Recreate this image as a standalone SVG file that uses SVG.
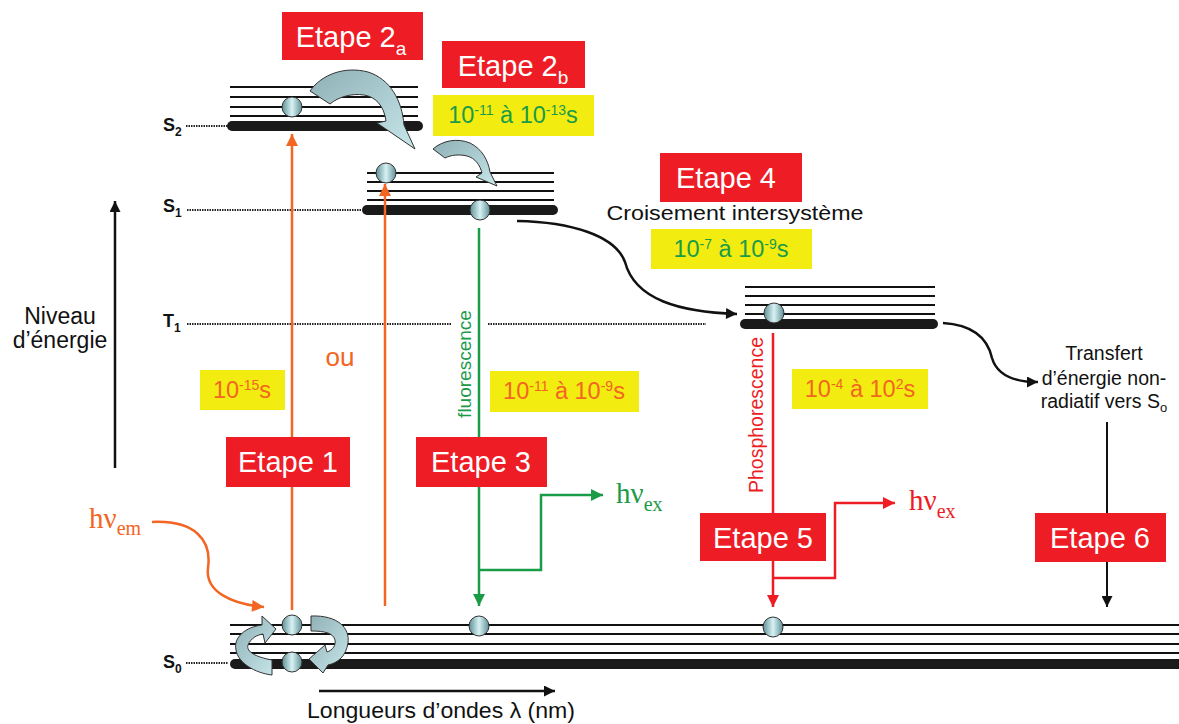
<svg xmlns="http://www.w3.org/2000/svg" width="1179" height="724" viewBox="0 0 1179 724">
<style>
.lvl{stroke:#111;stroke-width:2;fill:none}
.bar{stroke:#1a1a1a;stroke-width:10;stroke-linecap:round;fill:none}
.dot{stroke:#222;stroke-width:2;stroke-dasharray:1.5,1;fill:none}
.ball{fill:url(#ball);stroke:#333;stroke-width:1}
.fat{fill:url(#fatg);stroke:#333;stroke-width:1}
.red{fill:#ee1c24}
.yel{fill:#f2ec10}
.et{font-family:"Liberation Sans",Arial,sans-serif;font-size:29px;fill:#fff;text-anchor:middle}
.yt{font-family:"Liberation Sans",Arial,sans-serif;font-size:23.5px;text-anchor:middle}
.sup{font-size:14px}
.g{fill:#1a9b48}
.o{fill:#f26522}
.r{fill:#ee1c24}
.lab{font-family:"Liberation Sans",Arial,sans-serif;font-size:18px;font-weight:bold;fill:#111}
.txt{font-family:"Liberation Sans",Arial,sans-serif;fill:#111}
.hv{font-family:"Liberation Serif","Times New Roman",serif;font-size:29px}
</style>
<defs>
<linearGradient id="ball" x1="0" y1="0" x2="1" y2="0">
<stop offset="0" stop-color="#5f9096"/><stop offset="0.5" stop-color="#d8f2f4"/><stop offset="1" stop-color="#5f9096"/>
</linearGradient>
<linearGradient id="fatg" x1="0" y1="0" x2="1" y2="1">
<stop offset="0" stop-color="#8fb0b5"/><stop offset="1" stop-color="#c6e6ea"/>
</linearGradient>
<marker id="aO" viewBox="0 0 10 10" refX="10" refY="5" markerUnits="userSpaceOnUse" markerWidth="13" markerHeight="12" orient="auto"><path d="M0,0 L10,5 L0,10 z" fill="#f26522"/></marker>
<marker id="aG" viewBox="0 0 10 10" refX="10" refY="5" markerUnits="userSpaceOnUse" markerWidth="13" markerHeight="12" orient="auto"><path d="M0,0 L10,5 L0,10 z" fill="#1a9b48"/></marker>
<marker id="aR" viewBox="0 0 10 10" refX="10" refY="5" markerUnits="userSpaceOnUse" markerWidth="13" markerHeight="12" orient="auto"><path d="M0,0 L10,5 L0,10 z" fill="#ee1c24"/></marker>
<marker id="aK" viewBox="0 0 10 10" refX="10" refY="5" markerUnits="userSpaceOnUse" markerWidth="13" markerHeight="11" orient="auto"><path d="M0,0 L10,5 L0,10 z" fill="#111"/></marker>
</defs>
<rect width="1179" height="724" fill="#fff"/>

<!-- Energy axis -->
<g id="axis-energy">
<line x1="115" y1="468" x2="115" y2="201" stroke="#111" stroke-width="2.5" marker-end="url(#aK)"/>
<text class="txt" x="60" y="324" font-size="23" text-anchor="middle">Niveau</text>
<text class="txt" x="60" y="348" font-size="23" text-anchor="middle">d’énergie</text>
</g>

<!-- Wavelength axis -->
<g id="axis-wavelength">
<line x1="319" y1="691" x2="555" y2="691" stroke="#111" stroke-width="2.5" marker-end="url(#aK)"/>
<text class="txt" x="441" y="718" font-size="22" text-anchor="middle" textLength="268" lengthAdjust="spacingAndGlyphs">Longueurs d’ondes λ (nm)</text>
</g>

<!-- S2 -->
<g id="level-S2">
<text class="lab" x="163" y="131">S<tspan font-size="12" dy="5">2</tspan></text>
<line class="dot" x1="186" y1="126" x2="228" y2="126"/>
<line class="lvl" x1="230" y1="87" x2="418" y2="87"/>
<line class="lvl" x1="230" y1="97" x2="418" y2="97"/>
<line class="lvl" x1="230" y1="107" x2="418" y2="107"/>
<line class="lvl" x1="230" y1="116" x2="418" y2="116"/>
<line class="bar" x1="232" y1="126" x2="418" y2="126"/>
<circle class="ball" cx="292" cy="107" r="10"/>
</g>

<!-- S1 -->
<g id="level-S1">
<text class="lab" x="163" y="212">S<tspan font-size="12" dy="5">1</tspan></text>
<line class="dot" x1="187" y1="210" x2="362" y2="210"/>
<line class="lvl" x1="367" y1="173" x2="554" y2="173"/>
<line class="lvl" x1="367" y1="182" x2="554" y2="182"/>
<line class="lvl" x1="367" y1="191" x2="554" y2="191"/>
<line class="lvl" x1="367" y1="200" x2="554" y2="200"/>
<line class="bar" x1="367" y1="210" x2="553" y2="210"/>
<circle class="ball" cx="386" cy="173" r="10"/>
<circle class="ball" cx="480" cy="210" r="10"/>
</g>

<!-- T1 -->
<g id="level-T1">
<text class="lab" x="163" y="327">T<tspan font-size="12" dy="5">1</tspan></text>
<line class="dot" x1="187" y1="324" x2="452" y2="324"/>
<line class="dot" x1="488" y1="324" x2="706" y2="324"/>
<line class="lvl" x1="745" y1="287" x2="935" y2="287"/>
<line class="lvl" x1="745" y1="296" x2="935" y2="296"/>
<line class="lvl" x1="745" y1="305" x2="935" y2="305"/>
<line class="lvl" x1="745" y1="314" x2="935" y2="314"/>
<line class="bar" x1="745" y1="324" x2="933" y2="324"/>
<circle class="ball" cx="774" cy="313" r="10"/>
</g>

<!-- S0 -->
<g id="level-S0">
<text class="lab" x="163" y="668">S<tspan font-size="12" dy="5">0</tspan></text>
<line class="dot" x1="186" y1="663" x2="228" y2="663"/>
<line class="lvl" x1="230" y1="625" x2="1179" y2="625"/>
<line class="lvl" x1="230" y1="634" x2="1179" y2="634"/>
<line class="lvl" x1="230" y1="644" x2="1179" y2="644"/>
<line class="lvl" x1="230" y1="653" x2="1179" y2="653"/>
<line class="bar" x1="235" y1="664" x2="1190" y2="664"/>
<path class="fat" d="M272,660 C256,657 246,652 248,645 C251,638 257,635 263,634 L265,643 L276,629 L262,616 L262,625 C246,627 233,637 236,650 C238,663 255,673 272,675 Z"/>
<path class="fat" d="M311,616 C338,615 350,628 348,643 C346,656 338,663 328,665 L323,673 L309,659 L325,645 L327,652 C333,650 336,645 335,640 C333,633 325,631 311,631 Z"/>
<circle class="ball" cx="292" cy="625" r="10"/>
<circle class="ball" cx="292" cy="662" r="10"/>
<circle class="ball" cx="479" cy="626" r="10"/>
<circle class="ball" cx="773" cy="627" r="10"/>
</g>

<!-- Connectors -->
<g id="connectors" fill="none">
<line x1="292" y1="610" x2="292" y2="134" stroke="#f26522" stroke-width="2.5" marker-end="url(#aO)"/>
<line x1="385" y1="606" x2="385" y2="184" stroke="#f26522" stroke-width="2.5" marker-end="url(#aO)"/>
<path d="M152,522 C195,520 212,540 208,568 C205,592 232,604 264,607" stroke="#f26522" stroke-width="2.5" marker-end="url(#aO)"/>
<line x1="479" y1="228" x2="479" y2="606" stroke="#1a9b48" stroke-width="2.5" marker-end="url(#aG)"/>
<polyline points="479,570 541,570 541,495 603,495" stroke="#1a9b48" stroke-width="2.5" marker-end="url(#aG)"/>
<line x1="773" y1="333" x2="773" y2="607" stroke="#ee1c24" stroke-width="2.5" marker-end="url(#aR)"/>
<polyline points="773,578 835,578 835,503 895,503" stroke="#ee1c24" stroke-width="2.5" marker-end="url(#aR)"/>
<path d="M517,221 C570,222 615,235 625,262 C635,300 680,312 737,314" stroke="#111" stroke-width="2.5" marker-end="url(#aK)"/>
<path d="M943,323 C975,325 988,340 992,358 C997,375 1015,382 1038,382" stroke="#111" stroke-width="2.5" marker-end="url(#aK)"/>
<line x1="1107" y1="422" x2="1107" y2="607" stroke="#111" stroke-width="2" marker-end="url(#aK)"/>
<path class="fat" d="M310,91 C322,74 345,66 368,72 C390,79 402,100 404,125 L415,149 L377,123 L386,121 C384,106 376,97 364,95 C352,93 338,97 330,104 Z"/>
<path class="fat" d="M433,149 C443,140 458,138 470,143 C482,149 488,160 490,172 L497,186 L476,177 L482,173 C480,165 475,158 467,156 C459,154 451,155 445,158 Z"/>
</g>

<!-- Labels on connectors -->
<g id="label-fluorescence">
<text class="txt" x="471" y="364" font-size="19" style="fill:#1a9b48" text-anchor="middle" transform="rotate(-90 471 364)">fluorescence</text>
</g>
<g id="label-phosphorescence">
<text class="txt" x="763" y="415" font-size="19.5" style="fill:#ee1c24" text-anchor="middle" transform="rotate(-90 763 415)">Phosphorescence</text>
</g>
<g id="label-ou">
<text class="txt" x="340" y="366" font-size="26" style="fill:#f26522" text-anchor="middle">ou</text>
</g>
<g id="label-hvem">
<text class="hv o" x="89" y="528">hν<tspan font-size="20" dy="7">em</tspan></text>
</g>
<g id="label-hvex-green">
<text class="hv g" x="616" y="503">hν<tspan font-size="20" dy="8">ex</tspan></text>
</g>
<g id="label-hvex-red">
<text class="hv r" x="909" y="510">hν<tspan font-size="20" dy="8">ex</tspan></text>
</g>
<g id="label-transfert">
<text class="txt" x="1104" y="360" font-size="19.5" text-anchor="middle">Transfert</text>
<text class="txt" x="1104" y="385" font-size="19.5" text-anchor="middle">d’énergie non-</text>
<text class="txt" x="1104" y="408" font-size="19.5" text-anchor="middle">radiatif vers S<tspan font-size="13" dy="4">o</tspan></text>
</g>
<g id="label-croisement">
<text class="txt" x="735" y="220" font-size="21" text-anchor="middle" textLength="257" lengthAdjust="spacingAndGlyphs">Croisement intersystème</text>
</g>

<!-- Etape boxes -->
<g id="etape1"><rect class="red" x="226" y="437" width="124" height="50"/><text class="et" x="288" y="472">Etape 1</text></g>
<g id="etape2a"><rect class="red" x="282" y="12" width="141" height="48"/><text class="et" x="351" y="47">Etape 2<tspan font-size="19" dy="8">a</tspan></text></g>
<g id="etape2b"><rect class="red" x="442" y="41" width="143" height="47"/><text class="et" x="513" y="76">Etape 2<tspan font-size="19" dy="8">b</tspan></text></g>
<g id="etape3"><rect class="red" x="416" y="437" width="131" height="50"/><text class="et" x="481" y="472">Etape 3</text></g>
<g id="etape4"><rect class="red" x="660" y="153" width="142" height="49"/><text class="et" x="726" y="188">Etape 4</text></g>
<g id="etape5"><rect class="red" x="700" y="513" width="126" height="48"/><text class="et" x="763" y="548">Etape 5</text></g>
<g id="etape6"><rect class="red" x="1035" y="513" width="131" height="49"/><text class="et" x="1100" y="548">Etape 6</text></g>

<!-- Time boxes -->
<g id="time-15"><rect class="yel" x="200" y="370" width="85" height="40"/><text class="yt o" x="242" y="398">10<tspan class="sup" dy="-8">-15</tspan><tspan dy="8">s</tspan></text></g>
<g id="time-2b"><rect class="yel" x="433" y="95" width="161" height="41"/><text class="yt g" x="513" y="123">10<tspan class="sup" dy="-8">-11</tspan><tspan dy="8"> à 10</tspan><tspan class="sup" dy="-8">-13</tspan><tspan dy="8">s</tspan></text></g>
<g id="time-4"><rect class="yel" x="651" y="229" width="161" height="40"/><text class="yt g" x="731" y="257">10<tspan class="sup" dy="-8">-7</tspan><tspan dy="8"> à 10</tspan><tspan class="sup" dy="-8">-9</tspan><tspan dy="8">s</tspan></text></g>
<g id="time-3"><rect class="yel" x="490" y="371" width="149" height="41"/><text class="yt o" x="564" y="399">10<tspan class="sup" dy="-8">-11</tspan><tspan dy="8"> à 10</tspan><tspan class="sup" dy="-8">-9</tspan><tspan dy="8">s</tspan></text></g>
<g id="time-5"><rect class="yel" x="792" y="369" width="136" height="40"/><text class="yt o" x="860" y="397">10<tspan class="sup" dy="-8">-4</tspan><tspan dy="8"> à 10</tspan><tspan class="sup" dy="-8">2</tspan><tspan dy="8">s</tspan></text></g>
</svg>
